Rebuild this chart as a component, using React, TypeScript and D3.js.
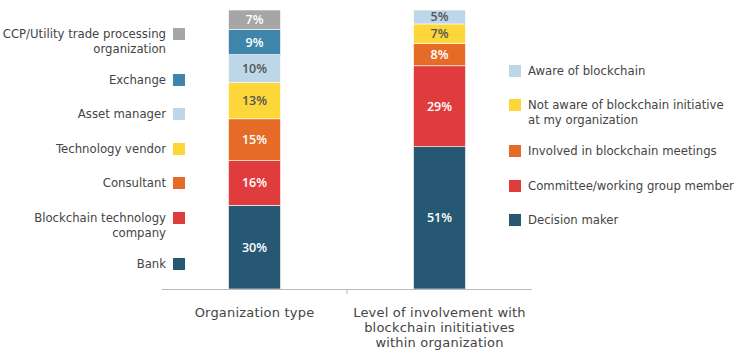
import React from "react";
import * as d3 from "d3";

const categories = ["Organization type", "Level of involvement with|blockchain inititiatives|within organization"];

const orgLabels = ["Bank", "Blockchain technology|company", "Consultant", "Technology vendor", "Asset manager", "Exchange", "CCP/Utility trade processing|organization"];
const orgValues = [30, 16, 15, 13, 10, 9, 7];
const orgColors = ["#265874", "#e03b3d", "#e66b27", "#fdd63a", "#bdd7e9", "#3f84aa", "#a6a6a6"];
const orgTextColors = ["#fff", "#fff", "#fff", "#555", "#555", "#fff", "#fff"];

const invLabels = ["Decision maker", "Committee/working group member", "Involved in blockchain meetings", "Not aware of blockchain initiative|at my organization", "Aware of blockchain"];
const invValues = [51, 29, 8, 7, 5];
const invColors = ["#265874", "#e03b3d", "#e66b27", "#fdd63a", "#bdd7e9"];
const invTextColors = ["#fff", "#fff", "#fff", "#555", "#555"];

const leftLegendY = [264, 218, 183, 149, 114, 80, 34];
const rightLegendY = [220, 186, 151, 105, 71];

const FONT = "'DejaVu Sans', sans-serif";
const TXT = "#444";

export default function App() {
  const W = 737, H = 360;
  const x = d3.scaleBand().domain(categories).range([162, 532]).paddingInner(0).paddingOuter(0);
  const y = d3.scaleLinear().domain([0, 100]).range([289, 10]);
  const barW = 52;

  const stacks = [
    { vals: orgValues, colors: orgColors, tc: orgTextColors },
    { vals: invValues, colors: invColors, tc: invTextColors },
  ];

  return (
    <svg width={W} height={H} style={{ position: "absolute", left: 0, top: 0 }} fontFamily={FONT}>
      <rect width={W} height={H} fill="#fff" />
      {stacks.map((s, si) => {
        const cx = (x(categories[si]) as number) + x.bandwidth() / 2;
        let cum = 0;
        return (
          <g key={si}>
            {s.vals.map((v, i) => {
              const y0 = y(cum);
              const y1 = y(cum + v);
              cum += v;
              return (
                <g key={i}>
                  <rect x={cx - barW / 2} y={y1} width={barW} height={y0 - y1} fill={s.colors[i]} stroke="#fff" strokeWidth={0.6} />
                  <text x={cx} y={(y0 + y1) / 2} dy="0.36em" textAnchor="middle" fontFamily="'Open Sans', sans-serif" fontSize={12.5} fontWeight={600} fill={s.tc[i]}>{v}%</text>
                </g>
              );
            })}
          </g>
        );
      })}
      <line x1={162} x2={532} y1={289.5} y2={289.5} stroke="#bbb" strokeWidth={1} />
      <line x1={347} x2={347} y1={289} y2={294} stroke="#bbb" strokeWidth={1} />
      {categories.map((c, ci) => {
        const cx = (x(c) as number) + x.bandwidth() / 2;
        return c.split("|").map((ln, li) => (
          <text key={ci + "-" + li} x={cx} y={312 + li * 15} dy="0.36em" textAnchor="middle" fontSize={13} letterSpacing={0.2} fill={TXT}>{ln}</text>
        ));
      })}
      {orgLabels.map((l, i) => (
        <g key={"l" + i}>
          <rect x={173} y={leftLegendY[i] - 6} width={12} height={12} fill={orgColors[i]} />
          {l.split("|").map((ln, li) => (
            <text key={li} x={166} y={leftLegendY[i] + li * 15} dy="0.36em" textAnchor="end" fontSize={11.7} fill={TXT}>{ln}</text>
          ))}
        </g>
      ))}
      {invLabels.map((l, i) => (
        <g key={"r" + i}>
          <rect x={509} y={rightLegendY[i] - 6} width={12} height={12} fill={invColors[i]} />
          {l.split("|").map((ln, li) => (
            <text key={li} x={528} y={rightLegendY[i] + li * 15} dy="0.36em" textAnchor="start" fontSize={11.7} fill={TXT}>{ln}</text>
          ))}
        </g>
      ))}
    </svg>
  );
}
